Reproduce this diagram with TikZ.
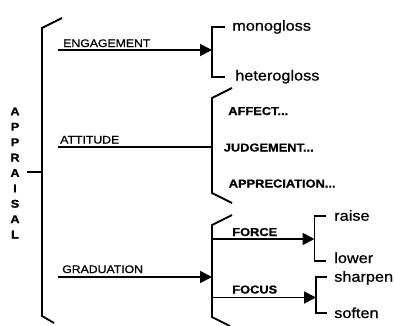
\documentclass[tikz,border=0pt]{standalone}
\usepackage{fontspec}
\setmainfont{Liberation Sans}[FakeStretch=1.12, FakeBold=0.8]
\usetikzlibrary{arrows.meta, positioning}

\begin{document}
\begin{tikzpicture}[x=0.75pt, y=-0.75pt]
    \tikzstyle{line} = [line width=1.35pt, black]
    \tikzstyle{arrow} = [line, -{Triangle[length=9pt, width=9pt]}]
    \tikzstyle{system} = [inner sep=0pt, anchor=base west, font=\fontsize{8.2}{9}\selectfont]
    \tikzstyle{subsystem} = [inner sep=0pt, anchor=base west, font=\bfseries\fontsize{8.6}{9}\selectfont]
    \tikzstyle{option} = [inner sep=0pt, anchor=base west, font=\fontsize{10.9}{12}\selectfont]

    \useasboundingbox (0,0) rectangle (395,325);

    % root and main bracket
    \node (appraisal) [inner sep=0pt, align=center, font=\bfseries\fontsize{8.5}{11.55}\selectfont] at (15,173) {A\\P\\P\\R\\A\\I\\S\\A\\L};
    \coordinate (mainT) at (42,28);
    \coordinate (mainB) at (42,316);
    \coordinate (root) at (42,172);
    \coordinate (rootS) at (27,172);
    \draw [line] (62,18) -- (mainT) -- (mainB) -- (54,323);
    \draw [line] (rootS) -- (root);

    % systems
    \node (engagement) [system] at (63,47) {ENGAGEMENT};
    \node (attitude) [system] at (60,143.5) {ATTITUDE};
    \node (graduation) [system] at (62,273) {GRADUATION};
    \coordinate (engS) at (58,50);    \coordinate (engE) at (212,50);
    \coordinate (attS) at (58,147);   \coordinate (attE) at (212,147);
    \coordinate (gradS) at (58,277);  \coordinate (gradE) at (212,277);
    \draw [arrow] (engS) -- (engE);
    \draw [line] (attS) -- (attE);
    \draw [arrow] (gradS) -- (gradE);

    % engagement
    \node (mono) [option] at (232,30.7) {monogloss};
    \node (hetero) [option] at (235,80.5) {heterogloss};
    \draw [line] (225,27.3) -- (212,27.3) -- (212,77) -- (225,77);

    % attitude
    \node (affect) [subsystem] at (228,115) {AFFECT...};
    \node (judgement) [subsystem] at (223.5,151.5) {JUDGEMENT...};
    \node (appreciation) [subsystem] at (228.5,187.5) {APPRECIATION...};
    \draw [line] (232,88) -- (212,98) -- (212,193) -- (232,203);

    % graduation
    \draw [line] (232,215) -- (212,225) -- (212,317) -- (230,326);
    \node (force) [subsystem] at (232,236) {FORCE};
    \node (focus) [subsystem] at (232,293.5) {FOCUS};
    \coordinate (forceS) at (212,239);  \coordinate (forceE) at (314.5,239);
    \coordinate (focusS) at (212,297.5); \coordinate (focusE) at (316,297.5);
    \draw [arrow] (forceS) -- (forceE);
    \draw [arrow] (focusS) -- (focusE);

    \node (raise) [option] at (334,220.7) {raise};
    \node (lower) [option] at (334,263) {lower};
    \draw [line] (326,216) -- (314.5,216) -- (314.5,261) -- (326,261);
    \node (sharpen) [option] at (334,281.7) {sharpen};
    \node (soften) [option] at (334,318) {soften};
    \draw [line] (327,277.3) -- (316,277.3) -- (316,313.3) -- (327,313.3);
\end{tikzpicture}
\end{document}
